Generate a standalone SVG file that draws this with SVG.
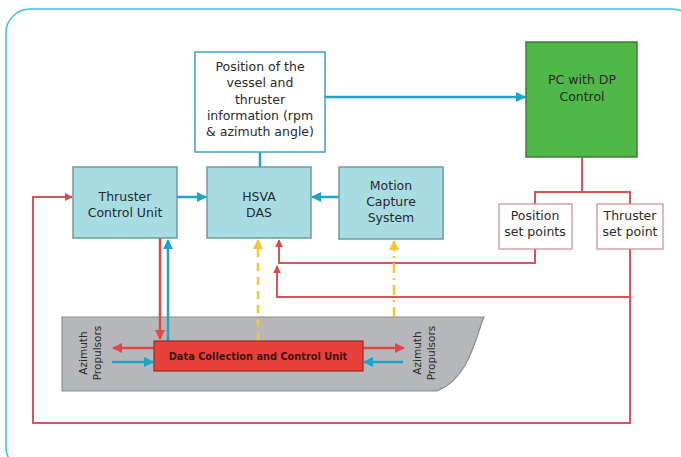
<svg xmlns="http://www.w3.org/2000/svg" width="681" height="457" viewBox="0 0 681 457">
<defs>
<style>
.t{font-family:"DejaVu Sans",Verdana,sans-serif;font-size:12.5px;fill:#2a2a2a;text-anchor:middle}
.s{font-family:"DejaVu Sans",Verdana,sans-serif;font-size:10.5px;fill:#2a2a2a;text-anchor:middle}
.blue{fill:#a8dce3;stroke:#6e9aa0;stroke-width:1.5}
.c{stroke:#1fa2c8;stroke-width:2.5;fill:none}
.r{stroke:#e04848;stroke-width:2.5;fill:none}
.rl{stroke:#d9545a;stroke-width:2;fill:none}
.y{stroke:#f6c531;stroke-width:2.5;fill:none}
</style>
<marker id="ac" viewBox="0 0 10 10" refX="9" refY="5" markerWidth="4" markerHeight="4" orient="auto" markerUnits="strokeWidth"><path d="M0,0 L10,5 L0,10 Z" fill="#1fa2c8"/></marker>
<marker id="ar" viewBox="0 0 10 10" refX="9" refY="5" markerWidth="4" markerHeight="4" orient="auto" markerUnits="strokeWidth"><path d="M0,0 L10,5 L0,10 Z" fill="#e04848"/></marker>
<marker id="ay" viewBox="0 0 10 10" refX="9" refY="5" markerWidth="4" markerHeight="4" orient="auto" markerUnits="strokeWidth"><path d="M0,0 L10,5 L0,10 Z" fill="#f6c531"/></marker>
</defs>
<rect x="0" y="0" width="681" height="457" fill="#fff"/>
<rect x="6" y="9" width="690" height="462" rx="24" fill="none" stroke="#3cc0dc" stroke-width="1.5"/>

<g id="ship">
<path d="M62,317 L484,317 C476,335 470,378 437,391 L62,391 Z" fill="#b6b7ba" stroke="#8a8b8e" stroke-width="1.2"/>
<text class="s" transform="translate(87,353) rotate(-90)">Azimuth</text>
<text class="s" transform="translate(101,353) rotate(-90)">Propulsors</text>
<text class="s" transform="translate(421,353) rotate(-90)">Azimuth</text>
<text class="s" transform="translate(435,353) rotate(-90)">Propulsors</text>
</g>

<g id="connectors">
<path class="c" d="M260,152 L260,167"/>
<path class="c" d="M325,97 L525,97" marker-end="url(#ac)"/>
<path class="c" d="M177,197 L206,197" marker-end="url(#ac)"/>
<path class="c" d="M339,197 L312,197" marker-end="url(#ac)"/>
<path class="rl" d="M582,157 L582,192 M535,204 L535,192 L630,192 L630,204"/>
<path class="rl" d="M535,249 L535,263 L279,263 L279,240" marker-end="url(#ar)"/>
<path class="rl" d="M630,249 L630,297 L277,297 L277,266" marker-end="url(#ar)"/>
<path class="rl" d="M630,297 L630,423 L33,423 L33,197 L72,197" marker-end="url(#ar)"/>
<path class="r" d="M160,238 L160,339" marker-end="url(#ar)"/>
<path class="c" d="M168,341 L168,240" marker-end="url(#ac)"/>
<path class="y" d="M258,341 L258,240" stroke-dasharray="8,6" marker-end="url(#ay)"/>
<path class="y" d="M394,317 L394,241" stroke-dasharray="10,5,2,5" marker-end="url(#ay)"/>
<path class="r" d="M154,348 L113,348" marker-end="url(#ar)"/>
<path class="c" d="M112,362 L153,362" marker-end="url(#ac)"/>
<path class="r" d="M363,348 L404,348" marker-end="url(#ar)"/>
<path class="c" d="M403,362 L364,362" marker-end="url(#ac)"/>
</g>

<g id="position-info">
<rect x="195" y="52" width="130" height="100" fill="#fff" stroke="#3aa3c0" stroke-width="1.5"/>
<text class="t" x="260" y="71">Position of the</text>
<text class="t" x="260" y="87">vessel and</text>
<text class="t" x="260" y="104">thruster</text>
<text class="t" x="260" y="120">information (rpm</text>
<text class="t" x="260" y="136">&amp; azimuth angle)</text>
</g>

<g id="pc-dp">
<rect x="526" y="42" width="111" height="115" fill="#4fb848" stroke="#3d7d3a" stroke-width="1.5"/>
<text class="t" x="582" y="84">PC with DP</text>
<text class="t" x="582" y="101">Control</text>
</g>

<g id="tcu">
<rect class="blue" x="73" y="167" width="104" height="71"/>
<text class="t" x="125" y="201">Thruster</text>
<text class="t" x="125" y="217">Control Unit</text>
</g>

<g id="hsva">
<rect class="blue" x="207" y="167" width="104" height="71"/>
<text class="t" x="259" y="201">HSVA</text>
<text class="t" x="259" y="217">DAS</text>
</g>

<g id="mcs">
<rect class="blue" x="339" y="167" width="104" height="72"/>
<text class="t" x="391" y="190">Motion</text>
<text class="t" x="391" y="206">Capture</text>
<text class="t" x="391" y="222">System</text>
</g>

<g id="pos-set">
<rect x="499" y="204" width="73" height="45" fill="#fff" stroke="#c98a92" stroke-width="1.2"/>
<text class="t" x="535" y="220">Position</text>
<text class="t" x="535" y="236">set points</text>
</g>

<g id="thr-set">
<rect x="597" y="204" width="66" height="45" fill="#fff" stroke="#c98a92" stroke-width="1.2"/>
<text class="t" x="630" y="220">Thruster</text>
<text class="t" x="630" y="236">set point</text>
</g>

<g id="dcu">
<rect x="154" y="341" width="209" height="30" fill="#e8413a" stroke="#9c2a25" stroke-width="1.2"/>
<text x="258" y="360" style="font-family:'DejaVu Sans',Verdana,sans-serif;font-size:9.8px;font-weight:bold;fill:#3a1412;text-anchor:middle">Data Collection and Control Unit</text>
</g>
</svg>
